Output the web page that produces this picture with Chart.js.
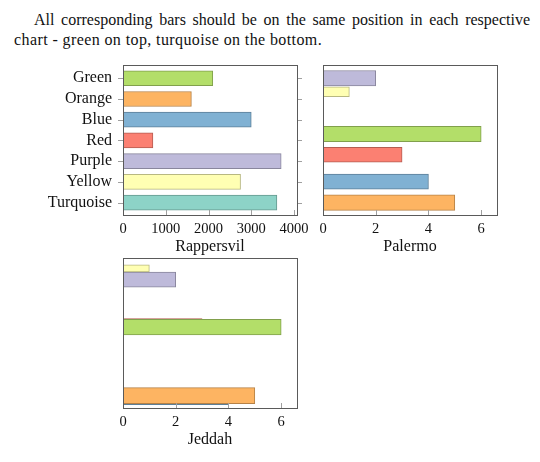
<!DOCTYPE html>
<html>
<head>
<meta charset="utf-8">
<script src="https://cdn.jsdelivr.net/npm/chart.js@4.4.1/dist/chart.umd.min.js"></script>
<style>
  body { margin: 0; background: #fff; width: 540px; height: 462px; position: relative; overflow: hidden; }
  .note { position: absolute; left: 14px; width: 516px; font-family: "Liberation Serif", serif; font-size: 16px; line-height: 20px; color: #111; white-space: nowrap; }
  #line1 { top: 10px; text-align: justify; text-align-last: justify; white-space: normal; padding-left: 20px; width: 496px; }
  #line2 { top: 30px; letter-spacing: 0.4px; }
  canvas { position: absolute; }
</style>
</head>
<body>
<div class="note" id="line1">All corresponding bars should be on the same position in each respective</div>
<div class="note" id="line2">chart - green on top, turquoise on the bottom.</div>
<canvas id="rapChart" width="320" height="205" style="left:0px;top:55px"></canvas>
<canvas id="palChart" width="240" height="205" style="left:300px;top:55px"></canvas>
<canvas id="jedChart" width="320" height="203" style="left:0px;top:250px"></canvas>
<script>
// data
const colorNames = ["Green", "Orange", "Blue", "Red", "Purple", "Yellow", "Turquoise"];
const rappersvilValues = [2100, 1600, 3000, 700, 3700, 2750, 3600];
const rappersvilSlots = [6, 5, 4, 3, 2, 1, 0];
const rappersvilTicks = [0, 1000, 2000, 3000, 4000];

const palermoNames = ["Purple", "Yellow", "Green", "Red", "Blue", "Orange"];
const palermoValues = [2, 1, 6, 3, 4, 5];
const palermoSlots = [6.0, 5.35, 3.31, 2.31, 1.01, 0.0];

const jeddahNames = ["Yellow", "Purple", "Green", "Red", "Blue", "Orange"];
const jeddahValues = [1, 2, 6, 3, 4, 5];
const jeddahSlots = [6.14, 5.6, 3.3, 3.36, -0.08, 0.0];

const smallTicks = [0, 2, 4, 6];

// styles
const fills = {
    Green: "#b3de69", Orange: "#fdb462", Blue: "#80b1d3", Red: "#fb8072",
    Purple: "#bebada", Yellow: "#ffffb3", Turquoise: "#8dd3c7"
};
const serif = "'Liberation Serif', serif";

function darken(hex, f) {
    const n = parseInt(hex.slice(1), 16);
    const r = Math.round(((n >> 16) & 255) * f);
    const g = Math.round(((n >> 8) & 255) * f);
    const b = Math.round((n & 255) * f);
    return `rgb(${r},${g},${b})`;
}

// box + pgfplots style tick marks
const pgfBox = {
    id: 'pgfBox',
    afterDraw(chart, args, opts) {
        const { ctx, chartArea: a, scales } = chart;
        ctx.save();
        ctx.lineWidth = 1;
        ctx.strokeStyle = '#a0a0a0';
        ctx.beginPath();
        scales.x.ticks.forEach(t => {
            const px = Math.round(scales.x.getPixelForValue(t.value)) + 0.5;
            ctx.moveTo(px, a.bottom);
            ctx.lineTo(px, a.bottom - 5);
        });
        if (opts.sideTicks) {
            scales.y.ticks.forEach(t => {
                const py = Math.round(scales.y.getPixelForValue(t.value)) + 0.5;
                ctx.moveTo(a.left - 5, py);
                ctx.lineTo(a.left, py);
                ctx.moveTo(a.right, py);
                ctx.lineTo(a.right + 5, py);
            });
        }
        ctx.stroke();
        ctx.strokeStyle = '#5a5a5a';
        ctx.strokeRect(Math.round(a.left) + 0.5, Math.round(a.top) + 0.5,
            Math.round(a.right - a.left), Math.round(a.bottom - a.top));
        ctx.restore();
    }
};

function makeDatasets(names, values, slots, thick, behind) {
    return names.map((name, i) => ({
        label: name,
        data: [{ x: values[i], y: slots[i] }],
        backgroundColor: fills[name],
        borderColor: darken(fills[name], 0.72),
        borderWidth: 1,
        borderSkipped: false,
        barThickness: thick[i],
        grouped: false,
        order: behind && behind.includes(name) ? 1 : 0
    }));
}

function makeChart(el, datasets, opts) {
    return new Chart(el.getContext('2d'), {
        type: 'bar',
        data: { datasets: datasets },
        plugins: [pgfBox],
        options: {
            indexAxis: 'y',
            responsive: false,
            animation: false,
            layout: { padding: opts.padding },
            plugins: {
                legend: { display: false },
                tooltip: { enabled: false },
                pgfBox: { sideTicks: opts.sideTicks }
            },
            scales: {
                x: {
                    type: 'linear',
                    min: 0,
                    max: opts.xmax,
                    grid: { display: false, drawTicks: false },
                    border: { display: false },
                    afterBuildTicks: s => { s.ticks = opts.xticks.map(v => ({ value: v })); },
                    afterFit: s => { s.height = 45; s.paddingLeft = 0; s.paddingRight = 0; },
                    ticks: { color: '#111', padding: 5, maxRotation: 0, autoSkip: false,
                        font: { family: serif, size: 14.5 },
                        callback: v => String(v) },
                    title: { display: true, text: opts.title, color: '#111',
                        padding: { top: 0, bottom: 4 }, font: { family: serif, size: 16 } }
                },
                y: {
                    type: 'linear',
                    offset: false,
                    min: -0.6,
                    max: 6.64,
                    display: opts.yLabels ? true : false,
                    grid: { display: false, drawTicks: false },
                    border: { display: false },
                    afterBuildTicks: s => { s.ticks = rappersvilSlots.map(v => ({ value: v })); },
                    afterFit: s => { if (opts.yLabels) s.width = 123; s.paddingTop = 0; s.paddingBottom = 0; },
                    ticks: {
                        color: '#111',
                        padding: 11,
                        font: { family: serif, size: 16 },
                        callback: v => colorNames[rappersvilSlots.indexOf(v)]
                    }
                }
            }
        }
    });
}

window.onload = function() {
    makeChart(document.getElementById('rapChart'),
        makeDatasets(colorNames, rappersvilValues, rappersvilSlots, [15, 15, 15, 15, 15, 15, 15]),
        { padding: { left: 0, top: 10, right: 23, bottom: 0 }, xmax: 4070, xticks: rappersvilTicks,
          title: 'Rappersvil', yLabels: true, sideTicks: true });

    makeChart(document.getElementById('palChart'),
        makeDatasets(palermoNames, palermoValues, palermoSlots, [15.5, 10, 15.5, 15, 15, 15.5]),
        { padding: { left: 23, top: 10, right: 43, bottom: 0 }, xmax: 6.6, xticks: smallTicks,
          title: 'Palermo', yLabels: false, sideTicks: false });

    makeChart(document.getElementById('jedChart'),
        makeDatasets(jeddahNames, jeddahValues, jeddahSlots, [7, 15, 15.5, 15, 15, 16], ["Red", "Blue"]),
        { padding: { left: 123, top: 8, right: 23, bottom: 0 }, xmax: 6.6, xticks: smallTicks,
          title: 'Jeddah', yLabels: false, sideTicks: false });
};
</script>
</body>
</html>
